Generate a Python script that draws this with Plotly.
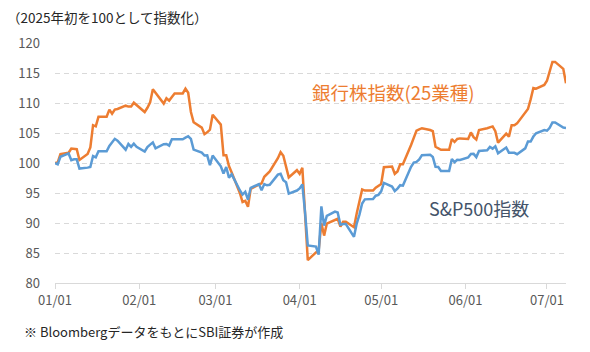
import plotly.graph_objects as go

# Weekdays per month (holidays carried forward), 2025
months = [1, 2, 3, 4, 5, 6, 7]
days_by_month = [
    [1, 2, 3, 6, 7, 8, 9, 10, 13, 14, 15, 16, 17, 20, 21, 22, 23, 24, 27, 28, 29, 30, 31],
    [3, 4, 5, 6, 7, 10, 11, 12, 13, 14, 17, 18, 19, 20, 21, 24, 25, 26, 27, 28],
    [3, 4, 5, 6, 7, 10, 11, 12, 13, 14, 17, 18, 19, 20, 21, 24, 25, 26, 27, 28, 31],
    [1, 2, 3, 4, 7, 8, 9, 10, 11, 14, 15, 16, 17, 18, 21, 22, 23, 24, 25, 28, 29, 30],
    [1, 2, 5, 6, 7, 8, 9, 12, 13, 14, 15, 16, 19, 20, 21, 22, 23, 26, 27, 28, 29, 30],
    [2, 3, 4, 5, 6, 9, 10, 11, 12, 13, 16, 17, 18, 19, 20, 23, 24, 25, 26, 27, 30],
    [1, 2, 3, 4, 7, 8],
]

bank_jan = [100, 100.1, 101.5, 101.7, 102.4, 102.3, 102.3, 100.5, 101.5, 102.6, 106.3, 106.1, 107.7, 107.7,
            108.9, 108.2, 108.9, 109.0, 109.55, 109.4, 109.4, 110.05, 109.7]
bank_feb = [108.5, 109.2, 110.1, 112.3, 111.7, 109.9, 110.8, 110.4, 111.0, 111.6, 111.6, 112.4, 111.7, 108.5,
            106.8, 105.9, 104.8, 105.1, 105.55, 108.05]
bank_mar = [106.4, 101.3, 101.3, 99.5, 98.4, 95.0, 93.5, 93.7, 92.7, 95.7, 96.4, 96.6, 97.7, 98.2, 98.6,
            100.8, 101.8, 101.2, 99.6, 97.6, 98.8]
bank_apr = [98.2, 99.2, 92.0, 83.8, 85.1, 85.4, 90.0, 87.9, 89.9, 90.5, 90.7, 89.4, 90.2, 90.2, 89.3, 91.6,
            93.8, 95.6, 95.4, 95.4, 95.9, 96.2]
bank_may = [96.5, 99.3, 99.4, 98.2, 98.6, 99.8, 99.8, 103.0, 104.2, 105.4, 105.6, 105.8, 105.5, 105.3, 102.7,
            102.4, 102.2, 102.2, 104.0, 103.5, 104.0, 104.1]
bank_jun = [104.0, 105.1, 104.3, 103.9, 105.5, 105.8, 106.0, 106.1, 105.3, 103.4, 104.9, 104.4, 106.3, 106.3,
            106.6, 108.4, 109.0, 110.6, 112.5, 112.4, 113.0]
bank_jul = [113.7, 115.1, 116.85, 116.85, 115.7, 113.3]

spx_jan = [100, 99.78, 101.03, 101.59, 100.47, 100.62, 100.62, 99.07, 99.23, 99.34, 101.16, 100.95, 101.96,
           101.96, 102.85, 103.48, 104.03, 103.73, 102.22, 103.16, 102.68, 103.22, 102.70]
spx_feb = [101.92, 102.66, 103.06, 103.43, 102.45, 103.14, 103.18, 102.90, 103.97, 103.96, 103.96, 104.22,
           104.46, 104.01, 102.24, 101.73, 101.25, 101.27, 99.66, 101.24]
spx_mar = [99.46, 98.24, 99.34, 97.57, 98.11, 95.46, 94.74, 95.20, 93.88, 95.87, 96.49, 95.46, 96.49, 96.28,
           96.36, 98.06, 98.21, 97.12, 96.80, 94.89, 95.41]
spx_apr = [95.77, 96.42, 91.75, 86.27, 86.07, 84.72, 92.78, 89.57, 91.19, 91.91, 91.75, 89.70, 89.82, 89.82,
           87.70, 89.90, 91.40, 93.25, 93.94, 94.00, 94.55, 94.69]
spx_may = [95.28, 96.69, 96.07, 95.33, 95.74, 96.30, 96.23, 99.36, 100.08, 100.19, 100.60, 101.31, 101.39,
           101.00, 99.37, 99.33, 98.66, 98.66, 100.68, 100.12, 100.52, 100.51]
spx_jun = [100.92, 101.51, 101.52, 100.98, 102.02, 102.11, 102.67, 102.39, 102.78, 101.62, 102.58, 101.72,
           101.69, 101.69, 101.47, 102.44, 103.58, 103.58, 104.41, 104.96, 105.50]
spx_jul = [105.38, 105.88, 106.76, 106.76, 105.92, 105.85]

dates = [f"2025-{m:02d}-{d:02d}" for m, ds in zip(months, days_by_month) for d in ds]
bank = bank_jan + bank_feb + bank_mar + bank_apr + bank_may + bank_jun + bank_jul
spx = spx_jan + spx_feb + spx_mar + spx_apr + spx_may + spx_jun + spx_jul

tick_vals = ["2025-01-01", "2025-02-01", "2025-03-01", "2025-04-01", "2025-05-01", "2025-06-01", "2025-07-01"]
tick_text = ["01/01", "02/01", "03/01", "04/01", "05/01", "06/01", "07/01"]

FONT = "Noto Sans CJK JP"
ORANGE = "#ED7D31"
BLUE = "#5B9BD5"

fig = go.Figure()
fig.add_trace(go.Scatter(x=dates, y=bank, mode="lines", line=dict(color=ORANGE, width=2.5), name="銀行株指数"))
fig.add_trace(go.Scatter(x=dates, y=spx, mode="lines", line=dict(color=BLUE, width=2.5), name="S&P500指数"))

fig.update_layout(
    width=590, height=352,
    margin=dict(l=55, r=24, t=43, b=69),
    paper_bgcolor="white", plot_bgcolor="white",
    showlegend=False,
    font=dict(family=FONT, color="#595959", size=13),
    xaxis=dict(
        type="date", range=["2025-01-01", "2025-07-08"],
        tickvals=tick_vals, ticktext=tick_text,
        showgrid=False, zeroline=False,
        showline=True, linecolor="#D9D9D9", linewidth=1,
        ticks="outside", ticklen=5, tickcolor="#D9D9D9",
        tickfont=dict(size=13, color="#595959", family=FONT),
    ),
    yaxis=dict(
        range=[80, 120], dtick=5, tick0=80,
        showgrid=True, gridcolor="#D9D9D9", griddash="5px,4px", gridwidth=1,
        zeroline=False, showline=False, ticks="",
        ticklabelstandoff=14,
        tickfont=dict(size=13, color="#595959", family=FONT),
    ),
    annotations=[
        dict(text="（2025年初を100として指数化）", xref="paper", yref="paper",
             x=-0.098, y=1.108, xanchor="left", yanchor="middle", showarrow=False,
             font=dict(size=13.5, color="#262626", family=FONT)),
        dict(text="銀行株指数(25業種)", xref="paper", yref="paper",
             x=0.499, y=0.797, xanchor="left", yanchor="middle", showarrow=False,
             font=dict(size=18.5, color=ORANGE, family=FONT)),
        dict(text="S&P500指数", xref="paper", yref="paper",
             x=0.728, y=0.3125, xanchor="left", yanchor="middle", showarrow=False,
             font=dict(size=18, color="#44546A", family=FONT)),
        dict(text="※ BloombergデータをもとにSBI証券が作成", xref="paper", yref="paper",
             x=-0.0646, y=-0.2, xanchor="left", yanchor="middle", showarrow=False,
             font=dict(size=13, color="#262626", family=FONT)),
    ],
)

fig.write_html("out.html")
